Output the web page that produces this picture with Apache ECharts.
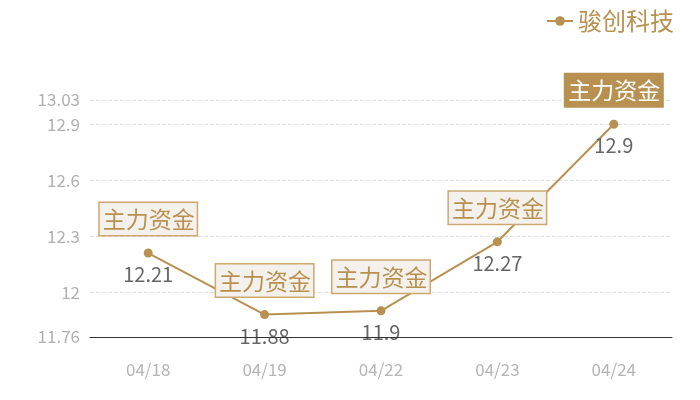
<!DOCTYPE html>
<html>
<head>
<meta charset="utf-8">
<script src="https://cdn.jsdelivr.net/npm/echarts@6/dist/echarts.min.js"></script>
<style>
  html, body { margin: 0; padding: 0; background: #fff; }
  #main { width: 700px; height: 400px; }
</style>
</head>
<body>
<div id="main"></div>
<script>
// 日期 / 股价
var dates = ['04/18', '04/19', '04/22', '04/23', '04/24'];
var prices = [12.21, 11.88, 11.9, 12.27, 12.9];
var seriesName = '骏创科技';
var markText = '主力资金';
var yMin = 11.76, yMax = 13.03;

var gold = '#b89150';
var font = '"Noto Sans CJK SC", "Noto Sans", sans-serif';

var chart = echarts.init(document.getElementById('main'));

// 每个点上方的“主力资金”标签，最后一个实心
var marks = dates.map(function (d, i) {
  var last = i === dates.length - 1;
  return {
    coord: [d, prices[i]],
    label: {
      backgroundColor: last ? gold : '#f4f0eb',
      borderColor: last ? gold : '#cda870',
      color: last ? '#fff' : gold
    }
  };
});

chart.setOption({
  animation: false,
  textStyle: { fontFamily: font },
  legend: {
    right: 21,
    top: 4,
    itemWidth: 26,
    itemHeight: 12,
    textStyle: { color: gold, fontSize: 24, fontFamily: font },
    data: [seriesName]
  },
  grid: { left: 90, right: 28, top: 100, bottom: 63 },
  xAxis: {
    type: 'category',
    data: dates,
    axisTick: { show: false },
    axisLine: { lineStyle: { color: '#333', width: 1 } },
    axisLabel: { color: '#b5b5b5', fontSize: 17, margin: 24 },
    z: 10
  },
  yAxis: {
    type: 'value',
    min: yMin,
    max: yMax,
    axisLine: { show: false },
    axisTick: { show: false },
    axisLabel: { color: '#b0b0b0', fontSize: 17, margin: 10 },
    splitLine: { lineStyle: { color: '#dedede', type: 'dashed' } }
  },
  series: [{
    name: seriesName,
    type: 'line',
    data: prices,
    symbol: 'circle',
    symbolSize: 9,
    itemStyle: { color: gold },
    lineStyle: { color: gold, width: 2 },
    label: {
      show: true,
      position: 'bottom',
      distance: 7,
      color: '#666',
      fontSize: 20
    },
    markPoint: {
      symbol: 'circle',
      symbolSize: 0,
      label: {
        show: true,
        position: 'top',
        distance: 18,
        formatter: markText,
        fontSize: 23,
        borderWidth: 1.5,
        padding: [5, 2, 4, 3],
        fontFamily: font
      },
      data: marks
    }
  }]
});
</script>
</body>
</html>
